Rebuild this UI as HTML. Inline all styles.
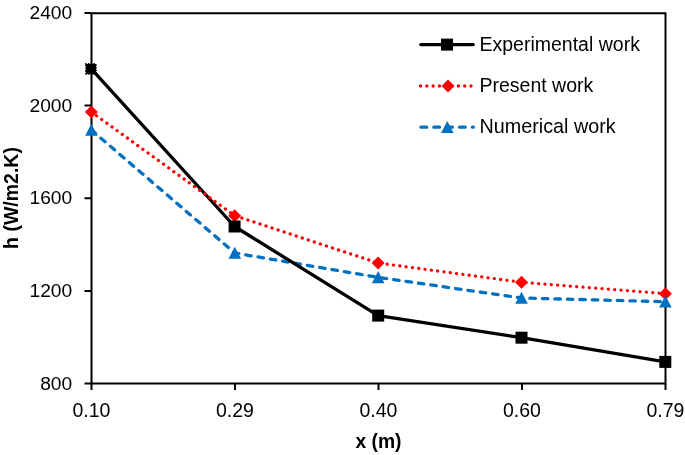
<!DOCTYPE html>
<html>
<head>
<meta charset="utf-8">
<style>
html,body{margin:0;padding:0;background:#fff;}
body{width:685px;height:455px;overflow:hidden;}
svg{display:block;will-change:transform;}
text{font-family:"Liberation Sans",sans-serif;fill:#000;}
</style>
</head>
<body>
<svg width="685" height="455" viewBox="0 0 685 455">
<rect x="0" y="0" width="685" height="455" fill="#fff"/>

<!-- plot frame -->
<g stroke="#000" stroke-width="2" fill="none">
  <path d="M91.5 13.15H665.5M91.5 383.5H665.5M91.5 12.25V384.5M665.5 12.25V384.5"/>
  <!-- y ticks -->
  <path d="M84.5 13H91.5M84.5 105.6H91.5M84.5 198.2H91.5M84.5 290.9H91.5M84.5 383.5H91.5"/>
  <!-- x ticks -->
  <path d="M91.5 383.5V390M235 383.5V390M378.5 383.5V390M522 383.5V390M665.5 383.5V390"/>
</g>

<!-- y labels -->
<g font-size="19.2" text-anchor="end">
  <text x="72.2" y="19.1">2400</text>
  <text x="72.2" y="111.7">2000</text>
  <text x="72.2" y="204.3">1600</text>
  <text x="72.2" y="297">1200</text>
  <text x="72.2" y="389.6">800</text>
</g>

<!-- x labels -->
<g font-size="19.5" text-anchor="middle">
  <text x="91.5" y="416.9">0.10</text>
  <text x="235" y="416.9">0.29</text>
  <text x="378.5" y="416.9">0.40</text>
  <text x="522" y="416.9">0.60</text>
  <text x="665.5" y="416.9">0.79</text>
</g>

<!-- axis titles -->
<text x="378.5" y="448" font-size="19.3" font-weight="bold" text-anchor="middle">x (m)</text>
<text transform="translate(17.6,198) rotate(-90)" font-size="19.5" font-weight="bold" text-anchor="middle">h (W/m2.K)</text>

<!-- series lines -->
<polyline points="91.4,130 234.8,253 378.2,277.4 521.5,298 665.4,301.7" fill="none" stroke="#0070C0" stroke-width="3.3" stroke-linecap="round" stroke-dasharray="5.5 7"/>
<polyline points="91.3,68.8 234.6,226.5 378.2,315.6 521.5,337.7 665.3,361.9" fill="none" stroke="#000" stroke-width="3.3" stroke-linejoin="round" stroke-linecap="round"/>
<polyline points="91.4,112 234.7,215.7 378.1,263 521.5,282.3 665.4,293.7" fill="none" stroke="#FF0000" stroke-width="3.3" stroke-linecap="round" stroke-dasharray="0.01 6.35"/>

<!-- markers -->
<defs>
  <path id="dia" d="M0 -6.5L6.5 0L0 6.5L-6.5 0Z"/>
  <path id="tri" d="M0 -6.3L6.3 5.8L-6.3 5.8Z"/>
  <rect id="sq" x="-6" y="-6" width="12" height="12"/>
</defs>
<g fill="#FF0000">
  <use href="#dia" x="91.4" y="112"/>
  <use href="#dia" x="234.7" y="215.7"/>
  <use href="#dia" x="378.1" y="263"/>
  <use href="#dia" x="521.5" y="282.3"/>
  <use href="#dia" x="665.4" y="293.7"/>
</g>
<g fill="#0070C0">
  <use href="#tri" x="91.4" y="130"/>
  <use href="#tri" x="234.8" y="253"/>
  <use href="#tri" x="378.2" y="277.4"/>
  <use href="#tri" x="521.5" y="298"/>
  <use href="#tri" x="665.4" y="301.7"/>
</g>
<g fill="#000">
  <rect x="86" y="64" width="9.9" height="9.9" stroke="#000" stroke-width="1.9" stroke-linecap="round" stroke-dasharray="0.01 2.7"/>
  <use href="#sq" x="234.6" y="226.5"/>
  <use href="#sq" x="378.2" y="315.6"/>
  <use href="#sq" x="521.5" y="337.7"/>
  <use href="#sq" x="665.3" y="361.9"/>
</g>

<!-- legend -->
<line x1="420.8" y1="44.6" x2="473.2" y2="44.6" stroke="#000" stroke-width="3.3" stroke-linecap="round"/>
<use href="#sq" x="447" y="44.6"/>
<line x1="420.5" y1="86" x2="474" y2="86" stroke="#FF0000" stroke-width="3.3" stroke-linecap="round" stroke-dasharray="0.01 6.3"/>
<use href="#dia" x="448" y="86" fill="#FF0000"/>
<line x1="421" y1="127.2" x2="473.3" y2="127.2" stroke="#0070C0" stroke-width="3.3" stroke-linecap="round" stroke-dasharray="5.7 7.15"/>
<use href="#tri" x="447.3" y="127.2" fill="#0070C0"/>
<g font-size="19.5">
  <text x="479.5" y="51">Experimental work</text>
  <text x="479.5" y="91.5">Present work</text>
  <text x="479.5" y="133.4" font-size="19.75">Numerical work</text>
</g>
</svg>
</body>
</html>
